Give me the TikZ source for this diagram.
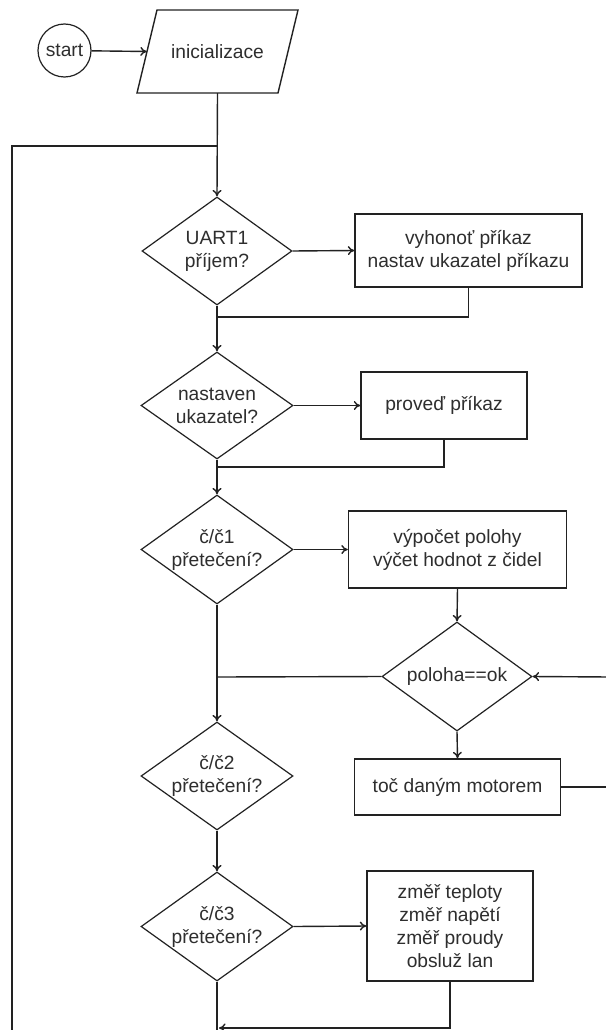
\documentclass[tikz,border=0pt]{standalone}
\usepackage{fontspec}
\setmainfont{Liberation Sans}
\usetikzlibrary{arrows.meta,shapes.geometric}
\definecolor{ln}{HTML}{222222}
\definecolor{tx}{HTML}{2E2E2E}
\tikzset{
  every node/.style={font=\fontsize{19.2}{23}\selectfont, text=tx},
  conn/.style={draw=ln, line width=1.4pt},
  arr/.style={conn, -{To[length=6.5pt,width=9pt]}},
  dec/.style={shape=diamond, draw=ln, line width=1.2pt, inner sep=0pt},
  proc/.style={shape=rectangle, draw=ln, line width=1.4pt, inner sep=0pt, align=center},
}
\begin{document}
\begin{tikzpicture}[x=1pt,y=-1pt]
\useasboundingbox (0,0) rectangle (605,1030);
\fill[white] (0,0) rectangle (605,1030);

% start and init
\node[circle, draw=ln, line width=1.2pt, minimum size=53pt, inner sep=0pt] (start) at (64.5,50.5) {start};
\draw[ln, line width=1.4pt] (157,10) -- (298,10) -- (278,93) -- (137,93) -- cycle;
\node[rectangle, minimum width=141pt, minimum height=83pt, inner sep=0pt] (init) at (217.5,51.5) {inicializace};

% decisions
\node[dec, minimum width=150pt, minimum height=108pt, label={[align=center]center:UART1\\příjem?}] (d1) at (217,251) {};
\node[dec, minimum width=152pt, minimum height=107pt, label={[align=center]center:nastaven\\ukazatel?}] (d2) at (217,405.5) {};
\node[dec, minimum width=152pt, minimum height=109pt, label={[align=center]center:č/č1\\přetečení?}] (d3) at (217,549.5) {};
\node[dec, minimum width=150pt, minimum height=109pt, label={[align=center]center:poloha==ok}] (d4) at (457,676.5) {};
\node[dec, minimum width=152pt, minimum height=108pt, label={[align=center]center:č/č2\\přetečení?}] (d5) at (217,776) {};
\node[dec, minimum width=152pt, minimum height=109pt, label={[align=center]center:č/č3\\přetečení?}] (d6) at (217,926.5) {};

% processes
\node[proc, minimum width=227pt, minimum height=73pt] (b1) at (468.5,250.5) {vyhonoť příkaz\\nastav ukazatel příkazu};
\node[proc, minimum width=166pt, minimum height=67pt] (b2) at (444,405.5) {proveď příkaz};
\node[proc, minimum width=218pt, minimum height=77pt] (b3) at (457.5,549.5) {výpočet polohy\\výčet hodnot z čidel};
\node[proc, minimum width=206pt, minimum height=56pt] (b4) at (457.5,787) {toč daným motorem};
\node[proc, minimum width=166pt, minimum height=110pt] (b6) at (450,926) {změř teploty\\změř napětí\\změř proudy\\obsluž lan};

% helper coordinates
\coordinate (loopT) at (217,146);
\coordinate (loopB) at (12,1040);
\coordinate (j1) at (217,317);
\coordinate (j2) at (217,467);
\coordinate (j3) at (217,677);
\coordinate (j6) at (219,1028);
\coordinate (rIn) at (610,677);
\coordinate (rOut) at (610,787);
\coordinate (bot) at (217,1040);

% connectors
\draw[arr] (start) -- (init.west);
\draw[arr] (init.south) -- (d1.north);
\draw[conn] (loopB) |- (loopT);
\draw[arr] (d1.east) -- (b1.west);
\draw[conn] (b1.south) |- (j1);
\draw[arr] (d1.south) -- (d2.north);
\draw[arr] (d2.east) -- (b2.west);
\draw[conn] (b2.south) |- (j2);
\draw[arr] (d2.south) -- (d3.north);
\draw[arr] (d3.east) -- (b3.west);
\draw[arr] (b3.south) -- (d4.north);
\draw[conn] (d4.west) -- (j3);
\draw[arr] (rIn) -- (d4.east);
\draw[arr] (d4.south) -- (b4.north);
\draw[conn] (b4.east) -- (rOut);
\draw[arr] (d3.south) -- (d5.north);
\draw[arr] (d5.south) -- (d6.north);
\draw[arr] (d6.east) -- (b6.west);
\draw[arr] (b6.south) |- (j6);
\draw[conn] (d6.south) -- (bot);
\end{tikzpicture}
\end{document}
